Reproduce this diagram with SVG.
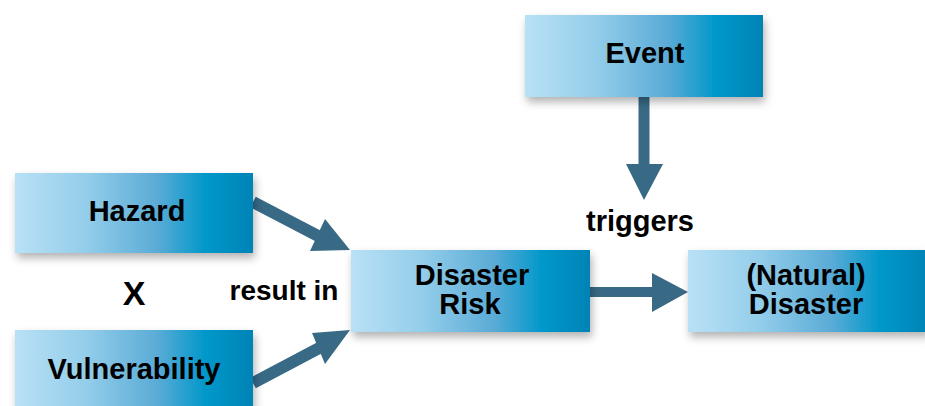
<svg xmlns="http://www.w3.org/2000/svg" width="925" height="406" viewBox="0 0 925 406">
<defs>
<linearGradient id="g" x1="0" y1="0" x2="1" y2="0">
<stop offset="0" stop-color="#b9e1f6"/>
<stop offset="0.3" stop-color="#93cdea"/>
<stop offset="0.6" stop-color="#5aabd6"/>
<stop offset="0.8" stop-color="#0098ca"/>
<stop offset="1" stop-color="#0083b6"/>
</linearGradient>
<filter id="sh" x="-10%" y="-20%" width="125%" height="150%">
<feDropShadow dx="2" dy="5" stdDeviation="4" flood-color="#000" flood-opacity="0.3"/>
</filter>
</defs>
<style>
.box{fill:url(#g);filter:url(#sh)}
.t{font-family:"Liberation Sans",Arial,sans-serif;font-weight:bold;font-size:29px;fill:#000;text-anchor:middle}
.sh{stroke:#386a86;fill:none}
.hd{fill:#386a86}
</style>
<rect width="925" height="406" fill="#fff"/>
<g id="connectors">
<path class="sh" d="M253,202 L322,238" stroke-width="12"/>
<polygon class="hd" points="350,250 310,251 325,219"/>
<path class="sh" d="M253,383 L323,346" stroke-width="12"/>
<polygon class="hd" points="350,330 312,333 325,364"/>
<path class="sh" d="M644,97 L644,166" stroke-width="11"/>
<polygon class="hd" points="626,164 663,164 644,200"/>
<path class="sh" d="M590,292 L655,292" stroke-width="10"/>
<polygon class="hd" points="652,273 652,312 688,292"/>
</g>
<g id="hazard">
<rect class="box" x="15" y="173" width="238" height="80"/>
<text class="t" x="137" y="221">Hazard</text>
</g>
<g id="vulnerability">
<rect class="box" x="15" y="330" width="238" height="80"/>
<text class="t" x="134" y="379">Vulnerability</text>
</g>
<g id="event">
<rect class="box" x="525" y="15" width="238" height="82"/>
<text class="t" x="645" y="63">Event</text>
</g>
<g id="disaster-risk">
<rect class="box" x="351" y="250" width="239" height="82"/>
<text class="t" x="472" y="285">Disaster</text>
<text class="t" x="470" y="314">Risk</text>
</g>
<g id="natural-disaster">
<rect class="box" x="688" y="250" width="240" height="82"/>
<text class="t" x="806" y="285">(Natural)</text>
<text class="t" x="806" y="314">Disaster</text>
</g>
<g id="labels">
<text class="t" x="134" y="305" style="font-size:34px">X</text>
<text class="t" x="284" y="300" style="font-size:28px">result in</text>
<text class="t" x="640" y="231" style="font-size:29px">triggers</text>
</g>
</svg>
